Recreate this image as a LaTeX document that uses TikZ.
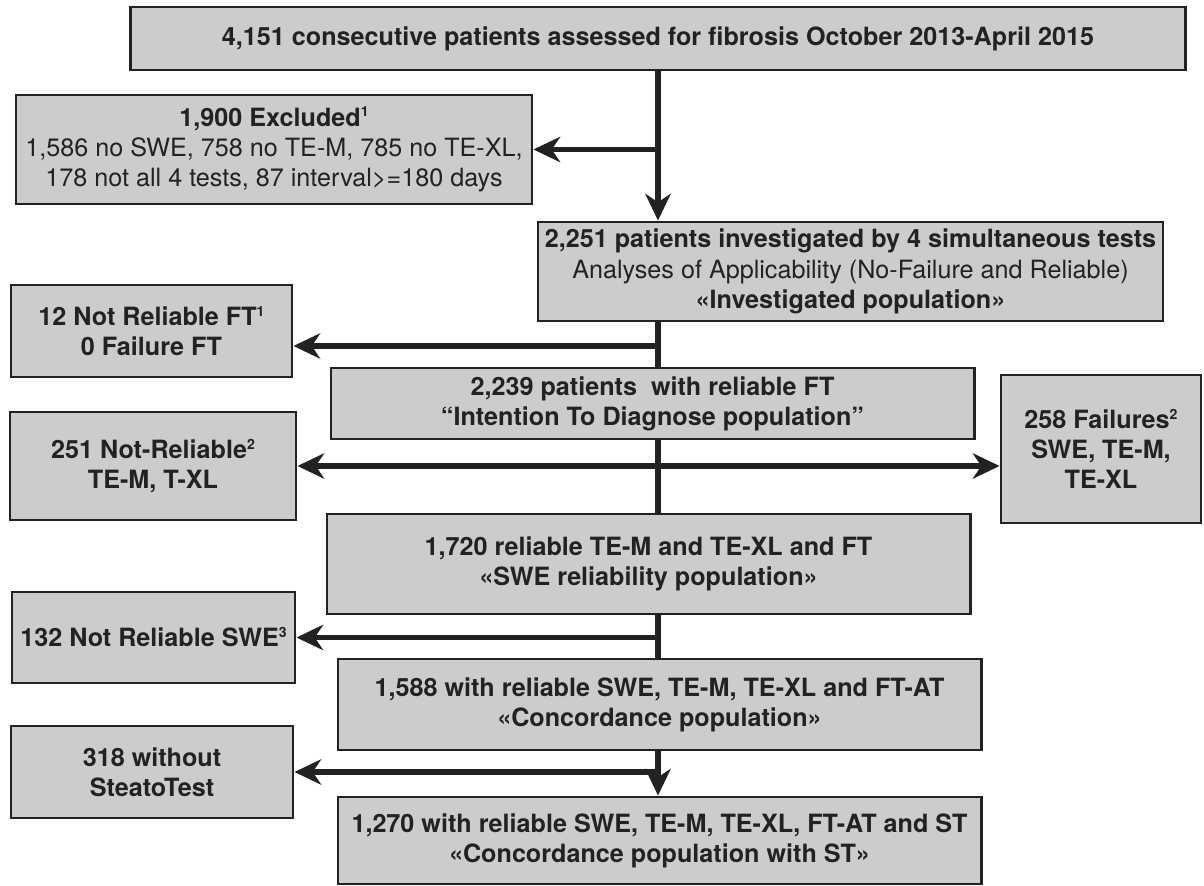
\documentclass[tikz,border=0pt]{standalone}
\usepackage{fontspec}
\setmainfont{TeX Gyre Heros}
\usetikzlibrary{arrows.meta}
\definecolor{boxgray}{RGB}{204,204,204}
\definecolor{ink}{RGB}{34,34,34}
\newcommand{\fnmark}[1]{\raisebox{0.36em}{\fontsize{10}{10}\selectfont #1}}

\begin{document}
\begin{tikzpicture}[x=0.025cm,y=-0.025cm,
  box/.style={draw=ink,line width=2pt,fill=boxgray,align=center,text=ink,inner sep=0pt,
    font=\fontsize{17.9}{21.5}\selectfont},
  arr/.style={draw=ink,line width=3.6pt,-{Stealth[length=19pt,width=18pt,inset=6pt]}},
  arrboth/.style={draw=ink,line width=3.6pt,{Stealth[length=19pt,width=18pt,inset=6pt]}-{Stealth[length=19pt,width=18pt,inset=6pt]}},
  trunk/.style={draw=ink,line width=3.6pt}]

\useasboundingbox (0,0) rectangle (1204,886);

\node[box,minimum width=26.35cm,minimum height=1.575cm] (top) at (658,38.5)
  {\textbf{4,151 consecutive patients assessed for fibrosis October 2013-April 2015}};
\node[box,minimum width=12.9cm,minimum height=2.725cm] (excl) at (274,149.5)
  {\textbf{1,900 Excluded\fnmark{1}}\\
   1,586 no SWE, 758 no TE-M, 785 no TE-XL,\\
   178 not all 4 tests, 87 interval>=180 days};
\node[box,minimum width=15.625cm,minimum height=2.475cm] (inv) at (850.5,271.5)
  {\textbf{2,251 patients investigated by 4 simultaneous tests}\\
   Analyses of Applicability (No-Failure and Reliable)\\
   \textbf{«Investigated population»}};
\node[box,minimum width=7.025cm,minimum height=2.3cm] (nr12) at (151.5,331)
  {\textbf{12 Not Reliable FT\fnmark{1}}\\ \textbf{0 Failure FT}};
\node[box,minimum width=16.075cm,minimum height=1.775cm] (itd) at (652.5,403.5)
  {\textbf{2,239 patients\ \ with reliable FT}\\ \textbf{“Intention To Diagnose population”}};
\node[box,minimum width=7.15cm,minimum height=2.7cm] (nr251) at (153,466)
  {\textbf{251 Not-Reliable\fnmark{2}}\\ \textbf{TE-M, T-XL}};
\node[box,minimum width=5cm,minimum height=3.7cm] (fail) at (1101,449)
  {\textbf{258 Failures\fnmark{2}}\\ \textbf{SWE, TE-M,}\\ \textbf{TE-XL}};
\node[box,minimum width=16.075cm,minimum height=2.5cm] (swe) at (648.5,564)
  {\textbf{1,720 reliable TE-M and TE-XL and FT}\\ \textbf{«SWE reliability population»}};
\node[box,minimum width=7.075cm,minimum height=2.275cm] (nr132) at (153.5,637.5)
  {\textbf{132 Not Reliable SWE\fnmark{3}}};
\node[box,minimum width=16.075cm,minimum height=2.275cm] (conc) at (659.5,704.5)
  {\textbf{1,588 with reliable SWE, TE-M, TE-XL and FT-AT}\\ \textbf{«Concordance population»}};
\node[box,minimum width=7.05cm,minimum height=2.3cm] (nost) at (152,772)
  {\textbf{318 without}\\ \textbf{SteatoTest}};
\node[box,minimum width=16.075cm,minimum height=2.175cm] (concst) at (659.5,840.5)
  {\textbf{1,270 with reliable SWE, TE-M, TE-XL, FT-AT and ST}\\ \textbf{«Concordance population with ST»}};

\coordinate (a12) at ([yshift=-0.375cm]nr12.east);

\draw[arr] (top.south) -- (top.south |- inv.north);
\draw[arr] (top.south |- excl.east) -- (excl.east);

\draw[trunk] (top.south |- inv.south) -- (top.south |- itd.north);
\draw[arr] (top.south |- a12) -- (a12);

\draw[trunk] (top.south |- itd.south) -- (top.south |- swe.north);
\draw[arrboth] (nr251.east) -- (nr251.east -| fail.west);

\draw[trunk] (top.south |- swe.south) -- (top.south |- conc.north);
\draw[arr] (top.south |- nr132.east) -- (nr132.east);

\draw[arr] (top.south |- conc.south) -- (top.south |- concst.north);
\draw[arr] (top.south |- nost.east) -- (nost.east);

\end{tikzpicture}
\end{document}
